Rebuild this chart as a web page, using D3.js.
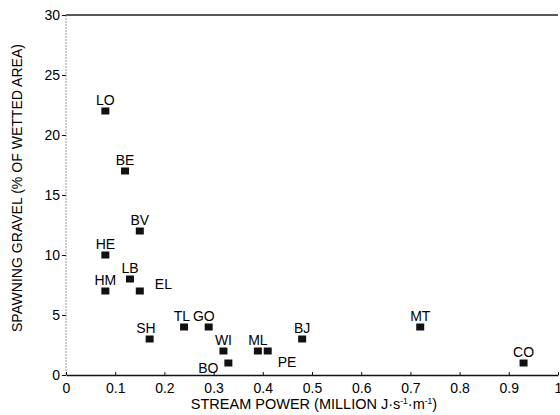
<!DOCTYPE html>
<html>
<head>
<meta charset="utf-8">
<script src="https://cdn.jsdelivr.net/npm/d3@7"></script>
<style>
  body { margin: 0; background: #fff; }
  text { font-family: "Liberation Sans", Arial, sans-serif; fill: #000; }
</style>
</head>
<body>
<svg width="560" height="415"></svg>
<script>
// site codes, stream power (million J/s/m), spawning gravel (% wetted area)
const sites = ["LO", "BE", "BV", "HE", "LB", "HM", "EL", "SH", "TL", "GO", "WI", "BO", "ML", "PE", "BJ", "MT", "CO"];
const power = [0.08, 0.12, 0.15, 0.08, 0.13, 0.08, 0.15, 0.17, 0.24, 0.29, 0.32, 0.33, 0.39, 0.41, 0.48, 0.72, 0.93];
const gravel = [22, 17, 12, 10, 8, 7, 7, 3, 4, 4, 2, 1, 2, 2, 3, 4, 1];
const xTicks = [0, 0.1, 0.2, 0.3, 0.4, 0.5, 0.6, 0.7, 0.8, 0.9, 1];
const yTicks = [0, 5, 10, 15, 20, 25, 30];

// where each label sits relative to its marker
const labelPos = {
  EL: "right", PE: "belowRight", BO: "left", SH: "aboveLeft", TL: "aboveLeft", GO: "aboveLeft"
};

const svg = d3.select("svg");
const m = { left: 66, right: 558, top: 15, bottom: 375 };

const x = d3.scaleLinear().domain([0, 1]).range([m.left, m.right]);
const y = d3.scaleLinear().domain([0, 30]).range([m.bottom, m.top]);

// frame: dark top + bottom, faint left
svg.append("line").attr("x1", m.left).attr("x2", m.right).attr("y1", m.top).attr("y2", m.top)
  .attr("stroke", "#222").attr("stroke-width", 1.5);
svg.append("line").attr("x1", m.left).attr("x2", m.left).attr("y1", m.top).attr("y2", m.bottom)
  .attr("stroke", "#999").attr("stroke-width", 1).attr("stroke-dasharray", "2,1");

const xAxis = svg.append("g").attr("transform", `translate(0,${m.bottom})`)
  .call(d3.axisBottom(x).tickValues(xTicks).tickSizeInner(-3).tickSizeOuter(0)
    .tickFormat(d => d === 0 || d === 1 ? d3.format("d")(d) : d3.format(".1f")(d)));
xAxis.select(".domain").attr("stroke", "#111").attr("stroke-width", 1.5);
xAxis.selectAll(".tick line").attr("stroke", "#111");
xAxis.selectAll(".tick text").attr("font-size", 14).attr("y", 8);

const yAxis = svg.append("g").attr("transform", `translate(${m.left},0)`)
  .call(d3.axisLeft(y).tickValues(yTicks).tickSize(4).tickSizeOuter(0));
yAxis.select(".domain").remove();
yAxis.selectAll(".tick line").attr("stroke", "#111");
yAxis.selectAll(".tick text").attr("font-size", 14).attr("x", -6);

svg.append("text")
  .attr("transform", `translate(22,${(m.top + m.bottom) / 2 - 7}) rotate(-90)`)
  .attr("text-anchor", "middle").attr("font-size", 14)
  .attr("textLength", 288).attr("lengthAdjust", "spacingAndGlyphs")
  .text("SPAWNING GRAVEL (% OF WETTED AREA)");

const xt = svg.append("text").attr("x", 314).attr("y", 409).attr("text-anchor", "middle").attr("font-size", 14.5);
xt.append("tspan").text("STREAM POWER (MILLION J·s");
xt.append("tspan").attr("font-size", 8.5).attr("dy", -5).text("-1");
xt.append("tspan").attr("dy", 5).text("·m");
xt.append("tspan").attr("font-size", 8.5).attr("dy", -5).text("-1");
xt.append("tspan").attr("dy", 5).text(")");

const pts = sites.map((s, i) => ({ s, p: power[i], g: gravel[i] }));

svg.append("g").selectAll("rect").data(pts).join("rect")
  .attr("x", d => x(d.p) - 4).attr("y", d => y(d.g) - 3.5)
  .attr("width", 8).attr("height", 7).attr("fill", "#111");

svg.append("g").selectAll("text").data(pts).join("text")
  .attr("font-size", 14)
  .attr("text-anchor", d => {
    const p = labelPos[d.s];
    if (p === "right" || p === "belowRight") return "start";
    if (p === "left" || p === "aboveLeft") return "end";
    return "middle";
  })
  .attr("x", d => {
    const p = labelPos[d.s];
    if (p === "right") return x(d.p) + 15;
    if (p === "belowRight") return x(d.p) + 10;
    if (p === "left") return x(d.p) - 10;
    if (p === "aboveLeft") return x(d.p) + 6;
    return x(d.p);
  })
  .attr("y", d => {
    const p = labelPos[d.s];
    if (p === "right") return y(d.g) - 2;
    if (p === "belowRight") return y(d.g) + 16;
    if (p === "left") return y(d.g) + 10;
    return y(d.g) - 6;
  })
  .text(d => d.s);
</script>
</body>
</html>
